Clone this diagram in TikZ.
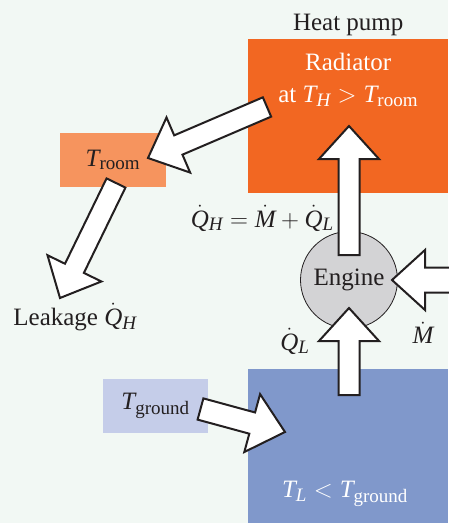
\documentclass[tikz,border=0pt]{standalone}
\usepackage{amsmath}
\usepackage{fontspec}
\setmainfont{Liberation Serif}
\usepackage{tikz}
\usetikzlibrary{positioning,calc}
\DeclareMathSizes{25}{25}{19}{15}
\definecolor{mint}{HTML}{F2F8F4}
\definecolor{ink}{HTML}{231F20}
\definecolor{hotred}{HTML}{F26722}
\definecolor{roomorange}{HTML}{F6945E}
\definecolor{coldblue}{HTML}{8098CB}
\definecolor{groundblue}{HTML}{C5CDE9}
\definecolor{enginegray}{HTML}{D3D3D5}
\tikzset{
  txt/.style={text=ink,inner sep=0pt,font=\fontsize{25}{29}\selectfont},
  whitetxt/.style={text=white,inner sep=0pt,align=center,
                   font=\fontsize{25}{31}\selectfont},
  hotbox/.style={fill=hotred,minimum width=200pt,minimum height=154pt,
                 anchor=north west,inner sep=0pt},
  coldbox/.style={fill=coldblue,minimum width=200pt,minimum height=154pt,
                  anchor=north west,inner sep=0pt},
  roombox/.style={fill=roomorange,minimum width=106pt,minimum height=54pt,
                  inner sep=0pt,text=ink,font=\fontsize{25}{29}\selectfont},
  soilbox/.style={fill=groundblue,minimum width=105pt,minimum height=54pt,
                  inner sep=0pt,text=ink,font=\fontsize{25}{29}\selectfont},
  engine/.style={circle,draw=ink,fill=enginegray,line width=0.8pt,
                 minimum size=97pt,inner sep=0pt,text=ink,
                 font=\fontsize{25}{29}\selectfont},
  fatarrow/.style={draw=ink,fill=white,line width=2pt,line join=miter}
}
% block arrow: tail, tip, half shaft, half head, head length (pt)
\newcommand{\blockarrow}[5]{%
  \coordinate (ba-h) at ($(#2)!#5pt!(#1)$);
  \draw[fatarrow] ($(#1)!#3pt!90:(#2)$) -- ($(ba-h)!#3pt!90:(#2)$)
    -- ($(ba-h)!#4pt!90:(#2)$) -- (#2) -- ($(ba-h)!#4pt!-90:(#2)$)
    -- ($(ba-h)!#3pt!-90:(#2)$) -- ($(#1)!#3pt!-90:(#2)$) -- cycle;
}

\begin{document}
\begin{tikzpicture}[x=1pt,y=-1pt]
    \fill[mint] (0,0) rectangle (448,523);
    \path[use as bounding box] (0,0) rectangle (448,523);

    % reservoirs
    \node[hotbox] (radiator) at (248,39) {};
    \node[coldbox] (ground) at (248,369) {};
    \node[txt,above=3pt of radiator] (heatpump) {Heat pump};
    \node[whitetxt,below=14pt of radiator.north] (radtext)
      {Radiator\\[1pt]at $\mathit{T}_{\mathit{H}} > \mathit{T}_{\mathrm{room}}$};
    \node[whitetxt] (gndtext) at (345,494)
      {$\mathit{T}_{\mathit{L}} < \mathit{T}_{\mathrm{ground}}$};

    \node[roombox] (room) at (113,160) {$\mathit{T}_{\mathrm{room}}$};
    \node[soilbox] (soil) at (155.5,406) {$\mathit{T}_{\mathrm{ground}}$};
    \node[engine] (eng) at (349,280) {Engine};

    % arrow ends
    \coordinate (radout) at (267,107);
    \coordinate (roomin) at (148,158);
    \coordinate (roomout) at (116,183);
    \coordinate (leak) at (60,298);
    \coordinate (engout) at (349,255);
    \coordinate (radin) at (349,126);
    \coordinate (gndout) at (349,395);
    \coordinate (engin) at (349,308);
    \coordinate (workin) at (470,280);
    \coordinate (engside) at (392,280);
    \coordinate (soilout) at (200.5,409);
    \coordinate (gndin) at (285,432);

    \blockarrow{radout}{roomin}{10.5}{30}{33}
    \blockarrow{roomout}{leak}{10.5}{30}{33}
    \blockarrow{engout}{radin}{10.5}{30}{33}
    \blockarrow{gndout}{engin}{10.5}{30}{33}
    \blockarrow{workin}{engside}{12.5}{30}{33}
    \blockarrow{soilout}{gndin}{11}{30}{34}

    % flow labels
    \node[txt,anchor=east] (qhlabel) at (334,218)
      {$\dot{\mathit{Q}}_{\mathit{H}} = \dot{\mathit{M}} + \dot{\mathit{Q}}_{\mathit{L}}$};
    \node[txt] (leaklabel) at (75,317) {Leakage $\dot{\mathit{Q}}_{\mathit{H}}$};
    \node[txt] (qllabel) at (295,341) {$\dot{\mathit{Q}}_{\mathit{L}}$};
    \node[txt] (mlabel) at (423,333) {$\dot{\mathit{M}}$};
\end{tikzpicture}
\end{document}
